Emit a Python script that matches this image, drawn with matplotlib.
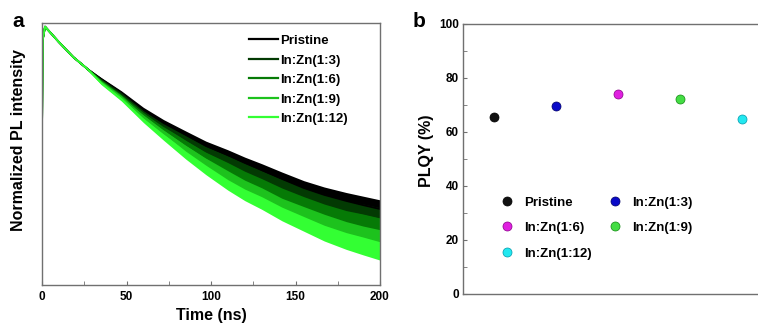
import numpy as np
import matplotlib
matplotlib.use("Agg")
import matplotlib.pyplot as plt
from matplotlib.ticker import MultipleLocator

plt.rcParams['font.family'] = ['Liberation Sans', 'DejaVu Sans']
plt.rcParams['font.weight'] = 'bold'

# ---- panel a: PL decay (0 = bottom of axis, 100 = top) ----
time_ns = [0, 0.4, 1.8, 10, 18.5, 27, 35, 47, 60, 72, 85, 97, 110, 120, 130, 142, 155, 167, 180, 190, 200]
pl_pristine = [58.0, 93.5, 98.6, 92.7, 87.0, 82.4, 78.6, 73.3, 66.8, 61.8, 57.3, 53.1, 49.6, 46.6, 43.9, 40.5, 37.0, 34.4, 32.1, 30.5, 29.0]
pl_1_3 = [58.0, 93.5, 98.6, 92.7, 87.0, 82.4, 78.2, 72.9, 66.0, 60.7, 55.7, 51.1, 47.3, 44.3, 41.2, 37.8, 34.4, 31.7, 29.0, 27.5, 26.0]
pl_1_6 = [58.0, 93.5, 98.6, 92.7, 87.0, 82.4, 77.9, 72.1, 65.3, 59.5, 53.8, 48.9, 44.7, 41.2, 38.2, 34.4, 30.9, 27.9, 25.2, 23.7, 22.1]
pl_1_9 = [58.0, 93.5, 98.6, 92.7, 87.0, 82.4, 77.5, 71.8, 64.1, 58.0, 51.9, 46.6, 41.6, 37.8, 34.7, 30.5, 27.1, 24.0, 21.0, 19.1, 17.6]
pl_1_12 = [58.0, 93.5, 98.6, 92.7, 87.0, 82.4, 77.1, 71.0, 63.0, 56.5, 49.6, 43.9, 38.2, 34.4, 31.3, 27.1, 23.3, 19.8, 16.8, 14.9, 13.0]
# half width of the noisy band around each trace
noise_band = [0.3, 0.3, 0.3, 0.3, 0.3, 0.4, 0.6, 0.8, 1.0, 1.3, 1.5, 1.8, 2.0, 2.2, 2.4, 2.6, 2.8, 3.0, 3.2, 3.4, 3.5]

decay_labels = ["Pristine", "In:Zn(1:3)", "In:Zn(1:6)", "In:Zn(1:9)", "In:Zn(1:12)"]
decay_colors = ["#000000", "#033a03", "#067a06", "#1dc21d", "#33ff33"]

# ---- panel b: PLQY ----
samples = ["Pristine", "In:Zn(1:3)", "In:Zn(1:6)", "In:Zn(1:9)", "In:Zn(1:12)"]
plqy = [65.7, 69.5, 74.2, 72.2, 64.7]
plqy_colors = ["#111111", "#0a0ac8", "#e020e0", "#44dd44", "#22e8f0"]
plqy_edges = ["#000000", "#000066", "#880088", "#118811", "#0099aa"]

fig = plt.figure(figsize=(7.58, 3.31), dpi=100)
ax1 = fig.add_axes([42 / 758, 46 / 331, 338 / 758, 262 / 331])
ax2 = fig.add_axes([463 / 758, 37 / 331, 310 / 758, 270 / 331])

spine_col = "#707070"
tick_fs = 8.5
label_fs = 11.5

# panel a
t = np.array(time_ns)
nb = np.array(noise_band)
for vals, col, lab in zip([pl_pristine, pl_1_3, pl_1_6, pl_1_9, pl_1_12], decay_colors, decay_labels):
    v = np.array(vals)
    ax1.fill_between(t, v - nb, v + nb, color=col, lw=0)
    ax1.plot(t, v, color=col, lw=1.3, label=lab)
ax1.set_xlim(0, 200)
ax1.set_ylim(0, 100)
ax1.set_yticks([])
ax1.xaxis.set_major_locator(MultipleLocator(50))
ax1.xaxis.set_minor_locator(MultipleLocator(25))
ax1.tick_params(axis='x', which='both', direction='in', length=3, color=spine_col,
                labelsize=tick_fs, pad=4)
for s in ax1.spines.values():
    s.set_color(spine_col)
    s.set_linewidth(1.0)
ax1.set_xlabel("Time (ns)", fontsize=label_fs, fontweight='bold', labelpad=4)
ax1.set_ylabel("Normalized PL intensity", fontsize=label_fs, fontweight='bold')
ax1.yaxis.set_label_coords(-0.047, 0.553)
leg1 = ax1.legend(loc='upper left', bbox_to_anchor=(0.598, 0.975), frameon=False,
                  fontsize=9.5, handlelength=2.2, handletextpad=0.15, labelspacing=0.55,
                  borderaxespad=0)
for h in leg1.get_lines():
    h.set_linewidth(1.6)

# panel b
handles = {}
for i, (val, col, ec, lab) in enumerate(zip(plqy, plqy_colors, plqy_edges, samples)):
    h, = ax2.plot(i + 1, val, 'o', ms=6.5, color=col, mec=ec, mew=0.5, label=lab)
    handles[lab] = h
ax2.set_xlim(0.5, 5.5)
ax2.set_ylim(0, 100)
ax2.set_xticks([])
ax2.yaxis.set_major_locator(MultipleLocator(20))
ax2.yaxis.set_minor_locator(MultipleLocator(10))
ax2.tick_params(axis='y', which='both', direction='in', length=3, color=spine_col,
                labelsize=tick_fs, pad=3)
for s in ax2.spines.values():
    s.set_color(spine_col)
    s.set_linewidth(1.0)
ax2.spines['right'].set_visible(False)
ax2.set_ylabel("PLQY (%)", fontsize=label_fs, fontweight='bold')
ax2.yaxis.set_label_coords(-0.094, 0.53)
# legend fills column-wise, so order entries to read row-wise like the original
order = [samples[0], samples[2], samples[4], samples[1], samples[3]]
ax2.legend([handles[k] for k in order], order, loc='upper left',
           bbox_to_anchor=(0.105, 0.381), frameon=False, ncol=2,
           fontsize=9.5, handlelength=1.0, handletextpad=0.75, columnspacing=1.3,
           labelspacing=1.0, borderaxespad=0)

fig.text(12 / 758, 1 - 27 / 331, "a", fontsize=15, fontweight='bold')
fig.text(413 / 758, 1 - 27 / 331, "b", fontsize=15, fontweight='bold')

fig.savefig("out.png", dpi=100)
